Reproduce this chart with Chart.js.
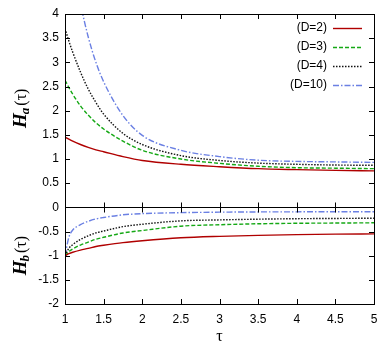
<!DOCTYPE html>
<html>
<head>
<meta charset="utf-8">
<script src="https://cdn.jsdelivr.net/npm/chart.js@4/dist/chart.umd.min.js"></script>
<style>
  html, body { margin: 0; padding: 0; background: #fff; }
  #wrap { width: 388px; height: 346px; }
</style>
</head>
<body>
<div id="wrap"><canvas id="c"></canvas></div>
<script>
// tau grid used for all curves
const tau = [1, 1.05, 1.1, 1.2, 1.3, 1.4, 1.5, 1.75, 2, 2.5, 3, 3.5, 4, 4.5, 5];

// H_a(tau), upper panel
const haD2  = [1.45, 1.41, 1.37, 1.30, 1.24, 1.19, 1.15, 1.05, 0.97, 0.89, 0.84, 0.80, 0.78, 0.765, 0.755];
const haD3  = [2.63, 2.48, 2.34, 2.10, 1.91, 1.75, 1.62, 1.37, 1.18, 1.00, 0.91, 0.85, 0.82, 0.81, 0.80];
const haD4  = [3.70, 3.44, 3.21, 2.80, 2.45, 2.17, 1.93, 1.53, 1.30, 1.07, 0.97, 0.915, 0.89, 0.875, 0.87];
const haD10 = [6.2, 5.62, 5.1, 4.22, 3.53, 3.0, 2.6, 1.90, 1.49, 1.18, 1.05, 0.975, 0.95, 0.94, 0.93];

// H_b(tau), lower panel
const hbD2  = [-1, -0.96, -0.93, -0.885, -0.85, -0.81, -0.785, -0.73, -0.69, -0.63, -0.60, -0.58, -0.565, -0.555, -0.55];
const hbD3  = [-1, -0.915, -0.86, -0.78, -0.72, -0.66, -0.62, -0.53, -0.48, -0.39, -0.36, -0.34, -0.33, -0.325, -0.32];
const hbD4  = [-1, -0.85, -0.77, -0.665, -0.59, -0.53, -0.49, -0.40, -0.35, -0.28, -0.26, -0.245, -0.235, -0.23, -0.225];
const hbD10 = [-1, -0.62, -0.47, -0.36, -0.29, -0.24, -0.21, -0.155, -0.13, -0.11, -0.10, -0.095, -0.093, -0.092, -0.09];

const labels = ['(D=2)', '(D=3)', '(D=4)', '(D=10)'];
const xTicks = [1, 1.5, 2, 2.5, 3, 3.5, 4, 4.5, 5];

// styles per D
const styles = [
  { color: '#b00000', dash: [] },
  { color: '#15a815', dash: [4, 2] },
  { color: '#111111', dash: [1.5, 1.5] },
  { color: '#6b80e3', dash: [6, 2, 1.5, 2] }
];

function pts(ys) {
  return tau.map((t, i) => ({ x: t, y: ys[i] }));
}

function makeSet(ys, i) {
  return {
    label: labels[i],
    data: pts(ys),
    borderColor: styles[i].color,
    borderDash: styles[i].dash,
    borderWidth: 1.4,
    pointRadius: 0,
    fill: false,
    cubicInterpolationMode: 'monotone'
  };
}

const haSets = [haD2, haD3, haD4, haD10];
const hbSets = [hbD2, hbD3, hbD4, hbD10];
const datasets = [];
haSets.forEach((ys, i) => datasets.push(makeSet(ys, i)));
hbSets.forEach((ys, i) => datasets.push(makeSet(ys, i)));

// frame, inward ticks, zero divider, legend and axis titles (gnuplot look)
const decor = {
  id: 'decor',
  afterDatasetsDraw(chart) {
    const { ctx, chartArea: a, scales } = chart;
    const xs = scales.x, ys = scales.y;
    const y0 = Math.round(ys.getPixelForValue(0)) + 0.5;
    ctx.save();
    ctx.strokeStyle = '#000';
    ctx.lineWidth = 1;
    ctx.setLineDash([]);
    ctx.strokeRect(Math.round(a.left) + 0.5, Math.round(a.top) + 0.5,
      Math.round(a.right - a.left), Math.round(a.bottom - a.top));
    ctx.beginPath();
    ctx.moveTo(a.left, y0);
    ctx.lineTo(a.right, y0);
    const tl = 5;
    xTicks.slice(1, -1).forEach(v => {
      const x = Math.round(xs.getPixelForValue(v)) + 0.5;
      ctx.moveTo(x, a.top); ctx.lineTo(x, a.top + tl);
      ctx.moveTo(x, a.bottom); ctx.lineTo(x, a.bottom - tl);
      ctx.moveTo(x, y0 - tl); ctx.lineTo(x, y0 + tl);
    });
    for (let v = -1.5; v <= 3.5; v += 0.5) {
      if (v === 0) continue;
      const y = Math.round(ys.getPixelForValue(v)) + 0.5;
      ctx.moveTo(a.left, y); ctx.lineTo(a.left + tl, y);
      ctx.moveTo(a.right, y); ctx.lineTo(a.right - tl, y);
    }
    ctx.stroke();
    ctx.restore();
  },
  afterDraw(chart) {
    const { ctx, chartArea: a, scales } = chart;
    ctx.save();
    // legend
    ctx.font = '12px "Liberation Sans", Arial, sans-serif';
    ctx.textAlign = 'right';
    ctx.textBaseline = 'middle';
    labels.forEach((lab, i) => {
      const y = 28 + i * 19;
      ctx.fillStyle = '#000';
      ctx.fillText(lab, a.right - 47, y);
      ctx.beginPath();
      ctx.strokeStyle = styles[i].color;
      ctx.lineWidth = 1.4;
      ctx.setLineDash(styles[i].dash);
      ctx.moveTo(a.right - 41, y + 0.5);
      ctx.lineTo(a.right - 12, y + 0.5);
      ctx.stroke();
    });
    ctx.setLineDash([]);
    // x title
    ctx.fillStyle = '#000';
    ctx.textAlign = 'center';
    ctx.font = '16px "Liberation Serif", serif';
    ctx.fillText('τ', (a.left + a.right) / 2, 337);
    // y titles
    drawYTitle(ctx, 'a', 20, scales.y.getPixelForValue(2.05));
    drawYTitle(ctx, 'b', 20, scales.y.getPixelForValue(-1));
    ctx.restore();
  }
};

function drawYTitle(ctx, sub, cx, cy) {
  const fH = 'bold italic 19px "Liberation Serif", serif';
  const fS = 'bold italic 13px "Liberation Serif", serif';
  const fP = '16px "Liberation Serif", serif';
  ctx.save();
  ctx.translate(cx, cy);
  ctx.rotate(-Math.PI / 2);
  ctx.textAlign = 'left';
  ctx.textBaseline = 'alphabetic';
  ctx.font = fH; const wH = ctx.measureText('H').width;
  ctx.font = fS; const wS = ctx.measureText(sub).width;
  ctx.font = fP; const wP = ctx.measureText('(τ)').width;
  let x = -(wH + wS + 1 + wP) / 2;
  const base = 6;
  ctx.fillStyle = '#000';
  ctx.font = fH; ctx.fillText('H', x, base); x += wH;
  ctx.font = fS; ctx.fillText(sub, x - 1, base + 3); x += wS + 1;
  ctx.font = fP; ctx.fillText('(τ)', x, base);
  ctx.restore();
}

new Chart(document.getElementById('c'), {
  type: 'line',
  data: { datasets },
  options: {
    responsive: true,
    maintainAspectRatio: false,
    animation: false,
    layout: { padding: { top: 14, right: 14, left: 0, bottom: 0 } },
    plugins: { legend: { display: false }, tooltip: { enabled: false } },
    scales: {
      x: {
        type: 'linear',
        min: 1, max: 5,
        afterFit: s => { s.height = 42; },
        grid: { display: false, drawTicks: false },
        border: { display: false },
        ticks: {
          stepSize: 0.5, padding: 8, color: '#000',
          font: { family: '"Liberation Sans", Arial, sans-serif', size: 12 },
          callback: v => String(v)
        }
      },
      y: {
        min: -2, max: 4,
        afterFit: s => { s.width = 65; },
        grid: { display: false, drawTicks: false },
        border: { display: false },
        ticks: {
          stepSize: 0.5, padding: 6, color: '#000',
          font: { family: '"Liberation Sans", Arial, sans-serif', size: 12 },
          callback: v => String(v)
        }
      }
    }
  },
  plugins: [decor]
});
</script>
</body>
</html>
